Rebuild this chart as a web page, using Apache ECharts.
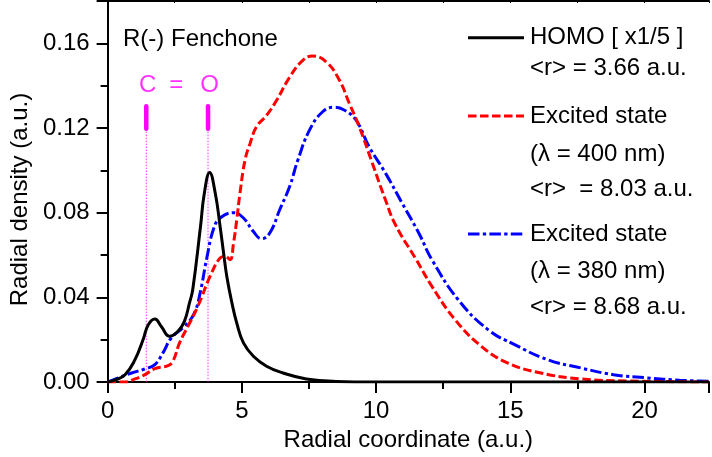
<!DOCTYPE html>
<html>
<head>
<meta charset="utf-8">
<script src="https://cdn.jsdelivr.net/npm/echarts@6/dist/echarts.min.js"></script>
<style>
html,body{margin:0;padding:0;background:#fff;}
#chart{width:712px;height:457px;}
</style>
</head>
<body>
<div id="chart"></div>
<script>
// ---- data ----
const xTicks = [0, 5, 10, 15, 20];
const yTicks = [0.00, 0.04, 0.08, 0.12, 0.16];

const homo = [[0,0],[0.28,0.001],[0.65,0.0035],[1.02,0.0106],[1.32,0.020],[1.51,0.027],[1.76,0.0298],[2.0,0.0263],[2.31,0.0216],[2.62,0.024],[2.86,0.0287],[3.05,0.0374],[3.17,0.0436],[3.46,0.0735],[3.6,0.089],[3.8,0.099],[4.01,0.0892],[4.19,0.0735],[4.32,0.061],[4.44,0.0499],[4.63,0.0374],[4.81,0.0279],[5.06,0.0185],[5.43,0.0122],[5.92,0.0075],[6.53,0.0043],[7.4,0.0015],[8.5,0.0003],[10,0.0],[15,0.0],[22.4,0.0]];

const excited400 = [[0,0],[0.65,0],[1.02,0.0015],[1.39,0.0035],[1.76,0.0064],[2.25,0.0078],[2.43,0.0098],[2.68,0.0185],[2.99,0.0263],[3.36,0.0358],[3.82,0.050],[4.19,0.0586],[4.38,0.0594],[4.56,0.0578],[4.69,0.0657],[4.81,0.0767],[4.93,0.0892],[5.12,0.105],[5.3,0.1125],[5.55,0.1207],[5.92,0.126],[6.29,0.133],[6.78,0.144],[7.27,0.152],[7.64,0.154],[8.14,0.1513],[8.63,0.1427],[9.0,0.1317],[9.37,0.1207],[9.86,0.1034],[10.35,0.086],[10.72,0.0743],[11.46,0.0586],[12.08,0.0452],[12.94,0.0295],[13.92,0.0169],[14.91,0.009],[16.14,0.0043],[17.62,0.0015],[19.46,0.0005],[21.0,0.0002],[22.4,0.0]];

const excited380 = [[0,0],[0.4,0.002],[0.89,0.0043],[1.39,0.0062],[1.76,0.0083],[2.06,0.0138],[2.37,0.0208],[2.86,0.0263],[3.23,0.0326],[3.46,0.043],[3.70,0.059],[3.95,0.0725],[4.19,0.0775],[4.69,0.080],[5.06,0.0775],[5.43,0.0711],[5.73,0.0677],[6.04,0.0704],[6.41,0.0814],[6.78,0.0924],[7.09,0.105],[7.52,0.119],[8.01,0.1277],[8.44,0.1298],[8.81,0.1285],[9.25,0.1238],[9.74,0.1112],[10.35,0.0987],[10.97,0.0845],[11.59,0.0704],[12.08,0.0578],[13.06,0.0389],[14.17,0.0248],[15.16,0.0177],[16.39,0.0106],[17.62,0.0067],[18.85,0.0035],[20.09,0.002],[21.3,0.0009],[22.4,0.0004]];

// C=O bond markers (x position of atoms) and their label positions
const bondAtomX = [1.44, 3.74];
const bondBarY = [0.1197, 0.1303];
const bondLabels = [['C', 1.49, 0.1403], ['=', 2.56, 0.1403], ['O', 3.80, 0.1403]];

const legendLines = [
  ['HOMO [ x1/5 ]', '<r> = 3.66 a.u.'],
  ['Excited state', '(λ = 400 nm)', '<r>  = 8.03 a.u.'],
  ['Excited state', '(λ = 380 nm)', '<r> = 8.68 a.u.']
];
const titleText = 'R(-) Fenchone';

// ---- chart ----
const FONT = "'Liberation Sans', Arial, sans-serif";
const MAG = '#ff00ff';
const chart = echarts.init(document.getElementById('chart'), null, {renderer: 'canvas'});

const markerSeries = [];
bondAtomX.forEach(x => {
  markerSeries.push({
    type: 'line', data: [[x, 0], [x, bondBarY[0]]], showSymbol: false, silent: true,
    lineStyle: {color: MAG, width: 1, type: [1.5, 1.5], opacity: 0.8}, z: 1
  });
  markerSeries.push({
    type: 'line', data: [[x, bondBarY[0]], [x, bondBarY[1]]], showSymbol: false, silent: true,
    lineStyle: {color: MAG, width: 4.5, cap: 'round'}, z: 1
  });
});

const textStyle = {fontFamily: FONT, fontSize: 24, color: '#000'};

const legendY = [[37.7, 68.5], [116, 154.5, 189], [234, 271.5, 307]];
const legendStyles = [
  {stroke: '#000', lineWidth: 3},
  {stroke: '#ff0000', lineWidth: 3, lineDash: [8.5, 3.5]},
  {stroke: '#0000ff', lineWidth: 3, lineDash: [11.5, 3.3, 3.3, 3.3]}
];
const graphics = [];
legendLines.forEach((lines, i) => {
  graphics.push({
    type: 'line', silent: true,
    shape: {x1: 468, y1: legendY[i][0], x2: 524, y2: legendY[i][0]},
    style: legendStyles[i]
  });
  lines.forEach((t, j) => {
    graphics.push({
      type: 'text', silent: true, x: 530, y: legendY[i][j],
      style: {text: t, font: '24px ' + FONT, fill: '#000', textVerticalAlign: 'middle', textAlign: 'left'}
    });
  });
});
graphics.push({
  type: 'text', silent: true, x: 123, y: 39,
  style: {text: titleText, font: '24px ' + FONT, fill: '#000', textVerticalAlign: 'middle', textAlign: 'left'}
});

chart.setOption({
  animation: false,
  backgroundColor: '#fff',
  grid: {left: 106, right: 0, top: 1, bottom: 74.5, containLabel: false},
  xAxis: [{
    type: 'value', min: 0, max: 22.4, interval: 5,
    name: 'Radial coordinate (a.u.)', nameLocation: 'middle', nameGap: 43,
    nameTextStyle: textStyle,
    axisLine: {lineStyle: {color: '#000', width: 2}},
    axisTick: {show: true, inside: false, length: 11, lineStyle: {color: '#000', width: 2}},
    minorTick: {show: true, splitNumber: 2, length: 7, lineStyle: {color: '#000', width: 2}},
    axisLabel: {margin: 17, fontFamily: FONT, fontSize: 24, color: '#000',
      formatter: v => xTicks.includes(v) ? String(v) : ''},
    splitLine: {show: false}
  }, {
    type: 'value', position: 'top', min: 0, max: 22.4, interval: 5,
    axisLine: {lineStyle: {color: '#000', width: 2}},
    axisTick: {show: true, inside: true, length: 2, lineStyle: {color: '#000', width: 1}},
    minorTick: {show: true, splitNumber: 2, length: 2, lineStyle: {color: '#000', width: 1}},
    axisLabel: {show: false}, splitLine: {show: false}
  }],
  yAxis: {
    type: 'value', min: 0, max: 0.18, interval: 0.04,
    name: 'Radial density (a.u.)', nameLocation: 'middle', nameGap: 71,
    nameTextStyle: Object.assign({}, textStyle, {padding: [0, 16, 0, 0]}),
    axisLine: {show: true, lineStyle: {color: '#000', width: 2}},
    axisTick: {show: true, inside: false, length: 11, lineStyle: {color: '#000', width: 2}},
    minorTick: {show: true, splitNumber: 2, length: 7, lineStyle: {color: '#000', width: 2}},
    axisLabel: {margin: 18, fontFamily: FONT, fontSize: 24, color: '#000',
      formatter: v => {
        const hit = yTicks.find(t => Math.abs(t - v) < 1e-9);
        return hit === undefined ? '' : hit.toFixed(2);
      }},
    splitLine: {show: false}
  },
  graphic: graphics,
  series: markerSeries.concat([
    {
      type: 'scatter', silent: true, symbolSize: 0, z: 2,
      data: bondLabels.map(b => ({name: b[0], value: [b[1], b[2]]})),
      label: {show: true, position: 'inside', formatter: p => p.name,
        fontFamily: FONT, fontSize: 24, color: MAG}
    },
    {
      name: 'Excited state (380 nm)', type: 'line', data: excited380, showSymbol: false,
      smooth: 0.45, z: 3,
      lineStyle: {color: '#0000ff', width: 3, type: [11.5, 3.3, 3.3, 3.3]}
    },
    {
      name: 'Excited state (400 nm)', type: 'line', data: excited400, showSymbol: false,
      smooth: 0.45, z: 4,
      lineStyle: {color: '#ff0000', width: 3, type: [8.5, 3.5]}
    },
    {
      name: 'HOMO [ x1/5 ]', type: 'line', data: homo, showSymbol: false,
      smooth: 0.45, z: 5,
      lineStyle: {color: '#000', width: 3}
    }
  ])
});
</script>
</body>
</html>
